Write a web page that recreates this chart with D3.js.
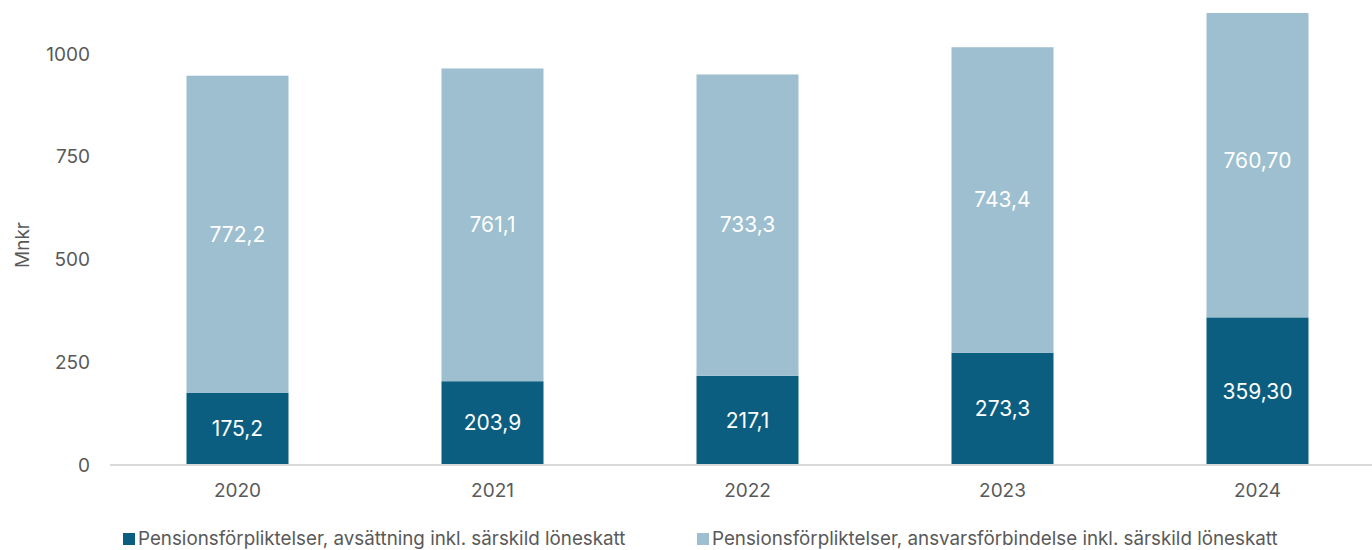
<!DOCTYPE html>
<html>
<head>
<meta charset="utf-8">
<script src="https://cdn.jsdelivr.net/npm/d3@7"></script>
<style>
  body { margin: 0; background: #fff; }
  text { font-family: Inter, "Noto Sans", sans-serif; }
</style>
</head>
<body>
<script>
// chart data
var years = ["2020", "2021", "2022", "2023", "2024"];
var avsattning = [175.2, 203.9, 217.1, 273.3, 359.3];
var ansvar = [772.2, 761.1, 733.3, 743.4, 760.7];
var avsattningLabels = ["175,2", "203,9", "217,1", "273,3", "359,30"];
var ansvarLabels = ["772,2", "761,1", "733,3", "743,4", "760,70"];
var yTicks = [0, 250, 500, 750, 1000];
var seriesNames = [
    "Pensionsförpliktelser, avsättning inkl. särskild löneskatt",
    "Pensionsförpliktelser, ansvarsförbindelse inkl. särskild löneskatt"
];

var w = 1372, h = 550;
var colors = ["#0b5e80", "#9dbfcf"];

var svg = d3.select("body").append("svg")
    .attr("width", w)
    .attr("height", h);

// x band scale runs a little past the right edge, as in the original
var xScale = d3.scaleBand()
    .domain(years)
    .range([110, 1385])
    .paddingInner(0.6)
    .paddingOuter(0.3);

var yScale = d3.scaleLinear()
    .domain([0, 1100])
    .range([465, 13]);

// clip to plot area (axis max 1100)
svg.append("clipPath").attr("id", "plot")
    .append("rect")
    .attr("x", 0).attr("y", yScale(1100))
    .attr("width", w).attr("height", yScale(0) - yScale(1100));

var rows = years.map(function (y, i) {
    return { year: y, a: avsattning[i], b: ansvar[i], la: avsattningLabels[i], lb: ansvarLabels[i] };
});

var stack = d3.stack().keys(["a", "b"])(rows);

var g = svg.append("g").attr("clip-path", "url(#plot)");

g.selectAll("g.series")
    .data(stack)
    .enter()
    .append("g")
    .attr("fill", function (d, i) { return colors[i]; })
    .selectAll("rect")
    .data(function (d) { return d; })
    .enter()
    .append("rect")
    .attr("x", function (d) { return xScale(d.data.year); })
    .attr("width", xScale.bandwidth())
    .attr("y", function (d) { return yScale(d[1]); })
    .attr("height", function (d) { return yScale(d[0]) - yScale(d[1]); });

// value labels
stack.forEach(function (s, si) {
    svg.append("g").selectAll("text")
        .data(s)
        .enter()
        .append("text")
        .attr("x", function (d) { return xScale(d.data.year) + xScale.bandwidth() / 2; })
        .attr("y", function (d) { return (yScale(d[0]) + yScale(d[1])) / 2; })
        .attr("dy", "0.35em")
        .attr("text-anchor", "middle")
        .attr("font-size", "21px")
        .attr("fill", "#fff")
        .text(function (d) { return si === 0 ? d.data.la : d.data.lb; });
});

// y axis (labels only)
var yAxis = d3.axisLeft(yScale).tickValues(yTicks).tickFormat(d3.format("d")).tickSize(0).tickPadding(0);
var yg = svg.append("g")
    .attr("transform", "translate(90,0)")
    .call(yAxis);
yg.select(".domain").remove();
yg.selectAll("text")
    .attr("font-size", "19px")
    .attr("fill", "#595959")
    .style("font-family", "Inter, 'Noto Sans', sans-serif");

// x axis
var xAxis = d3.axisBottom(xScale).tickSize(0).tickPadding(19);
var xg = svg.append("g")
    .attr("transform", "translate(0," + yScale(0) + ")")
    .call(xAxis);
xg.select(".domain")
    .attr("stroke", "#d9d9d9")
    .attr("stroke-width", 2)
    .attr("d", "M110,0H" + w);
xg.selectAll("text")
    .attr("font-size", "19px")
    .attr("fill", "#595959")
    .style("font-family", "Inter, 'Noto Sans', sans-serif");

// y axis title
svg.append("text")
    .attr("transform", "translate(29,245) rotate(-90)")
    .attr("text-anchor", "middle")
    .attr("font-size", "19px")
    .attr("fill", "#595959")
    .text("Mnkr");

// legend
var legendX = [123, 697];
var legend = svg.append("g").selectAll("g")
    .data(seriesNames)
    .enter()
    .append("g")
    .attr("transform", function (d, i) { return "translate(" + legendX[i] + ",531)"; });
legend.append("rect")
    .attr("width", 12).attr("height", 12)
    .attr("y", 2)
    .attr("fill", function (d, i) { return colors[i]; });
legend.append("text")
    .attr("x", 15)
    .attr("y", 14)
    .attr("font-size", "18.8px")
    .attr("fill", "#595959")
    .text(function (d) { return d; });
</script>
</body>
</html>
